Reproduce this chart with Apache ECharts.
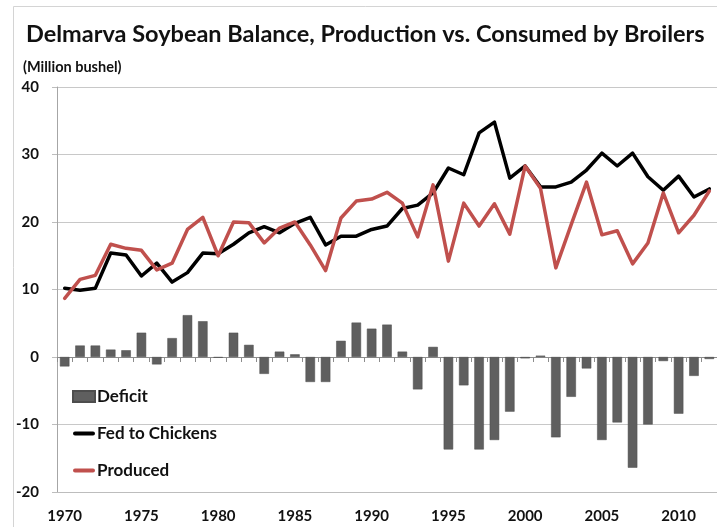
<!DOCTYPE html>
<html>
<head>
<meta charset="utf-8">
<title>Delmarva Soybean Balance</title>
<script src="https://cdn.jsdelivr.net/npm/echarts@6/dist/echarts.min.js"></script>
<style>
  html, body { margin: 0; padding: 0; background: #fff; }
  #main { width: 717px; height: 527px; }
</style>
</head>
<body>
<div id="main"></div>
<script>
// 年份 1970 - 2012
var years = ['1970','1971','1972','1973','1974','1975','1976','1977','1978','1979',
             '1980','1981','1982','1983','1984','1985','1986','1987','1988','1989',
             '1990','1991','1992','1993','1994','1995','1996','1997','1998','1999',
             '2000','2001','2002','2003','2004','2005','2006','2007','2008','2009',
             '2010','2011','2012'];

// Fed to Chickens
var fedToChickens = [10.2, 9.9, 10.2, 15.4, 15.1, 12.0, 13.9, 11.1, 12.5, 15.4,
                     15.3, 16.7, 18.4, 19.3, 18.4, 19.8, 20.7, 16.6, 17.9, 17.9,
                     18.9, 19.4, 22.0, 22.5, 24.3, 28.0, 27.0, 33.2, 34.8, 26.5,
                     28.3, 25.2, 25.2, 25.9, 27.7, 30.2, 28.3, 30.2, 26.7, 24.7,
                     26.8, 23.7, 24.9];

// Produced
var produced = [8.7, 11.5, 12.1, 16.7, 16.1, 15.8, 12.9, 13.9, 18.9, 20.7,
                15.0, 20.0, 19.9, 16.9, 19.1, 20.0, 16.6, 12.8, 20.6, 23.1,
                23.4, 24.4, 22.8, 17.8, 25.5, 14.2, 22.8, 19.4, 22.7, 18.2,
                28.3, 25.0, 13.2, 19.6, 25.9, 18.1, 18.7, 13.8, 16.9, 24.3,
                18.4, 21.0, 24.6];

// Deficit
var deficit = [-1.4, 1.7, 1.7, 1.1, 1.0, 3.6, -1.1, 2.8, 6.2, 5.3,
               -0.1, 3.6, 1.8, -2.5, 0.8, 0.4, -3.7, -3.7, 2.4, 5.1,
               4.2, 4.8, 0.8, -4.8, 1.5, -13.7, -4.2, -13.7, -12.3, -8.1,
               -0.2, 0.2, -11.9, -5.9, -1.7, -12.3, -9.7, -16.4, -10.0, -0.6,
               -8.4, -2.8, -0.3];

var yTicks = { min: -20, max: 40, interval: 10 };

var font = 'Lato, "Open Sans", sans-serif';
// 图例里的线条图标 (细长条)
var lineIcon = 'path://M2,0 L20,0 A2,2 0 0 1 20,4 L2,4 A2,2 0 0 1 2,0 Z';

var chart = echarts.init(document.getElementById('main'));

var option = {
    animation: false,
    backgroundColor: '#fff',
    textStyle: { fontFamily: font },
    graphic: [
        {
            type: 'rect',
            shape: { x: 13.5, y: 6.5, width: 760, height: 560 },
            style: { fill: 'none', stroke: '#d4d4d4', lineWidth: 1 },
            silent: true
        }
    ],
    title: [
        {
            text: 'Delmarva Soybean Balance, Production vs. Consumed by Broilers',
            left: 21,
            top: 17,
            textStyle: { fontFamily: font, fontSize: 23.5, fontWeight: 'bold', color: '#111' }
        },
        {
            text: '(Million bushel)',
            left: 18,
            top: 55,
            textStyle: { fontFamily: font, fontSize: 14.5, fontWeight: 'bold', color: '#111' }
        }
    ],
    legend: {
        orient: 'vertical',
        left: 67,
        top: 383,
        itemWidth: 22,
        itemHeight: 11,
        itemGap: 20,
        symbolKeepAspect: true,
        textStyle: { fontFamily: font, fontSize: 17, fontWeight: 'bold', color: '#111', padding: [0, 0, 0, -3] },
        data: [
            { name: 'Deficit', icon: 'rect' },
            { name: 'Fed to Chickens', icon: lineIcon },
            { name: 'Produced', icon: lineIcon }
        ]
    },
    grid: {
        left: 57,
        right: 0,
        top: 87,
        bottom: 35
    },
    xAxis: [
        {
            type: 'category',
            data: years,
            boundaryGap: true,
            axisLine: { onZero: true, lineStyle: { color: '#8c8c8c', width: 1 } },
            axisTick: { show: true, interval: 0, length: 5, lineStyle: { color: '#8c8c8c' } },
            axisLabel: { show: false },
            splitLine: { show: false }
        },
        {
            type: 'category',
            data: years,
            position: 'bottom',
            boundaryGap: true,
            axisLine: { onZero: false, show: true, lineStyle: { color: '#bdbdbd', width: 1 } },
            axisTick: { show: false },
            axisLabel: {
                margin: 17,
                fontFamily: font,
                fontSize: 15,
                fontWeight: 'bold',
                color: '#111',
                interval: function (i) { return i % 5 === 0; }
            },
            splitLine: { show: false }
        }
    ],
    yAxis: {
        type: 'value',
        min: yTicks.min,
        max: yTicks.max,
        interval: yTicks.interval,
        axisLine: { show: true, lineStyle: { color: '#a6a6a6' } },
        axisTick: { show: true, length: 5, lineStyle: { color: '#bdbdbd' } },
        axisLabel: { margin: 18, fontFamily: font, fontSize: 15, fontWeight: 'bold', color: '#111' },
        splitLine: { show: true, lineStyle: { color: '#c8c8c8', width: 1 } }
    },
    series: [
        {
            name: 'Deficit',
            type: 'bar',
            xAxisIndex: 0,
            data: deficit,
            barWidth: 9.5,
            itemStyle: { color: '#5f5f5f', borderColor: '#4d4d4d', borderWidth: 0.5 }
        },
        {
            name: 'Fed to Chickens',
            type: 'line',
            xAxisIndex: 0,
            data: fedToChickens,
            symbol: 'none',
            lineStyle: { color: '#000', width: 3.5, join: 'round', cap: 'round' },
            itemStyle: { color: '#000' }
        },
        {
            name: 'Produced',
            type: 'line',
            xAxisIndex: 0,
            data: produced,
            symbol: 'none',
            lineStyle: { color: '#c0504d', width: 3.5, join: 'round', cap: 'round' },
            itemStyle: { color: '#c0504d' }
        }
    ]
};

chart.setOption(option);

window.addEventListener('resize', function () {
    chart.resize();
});
</script>
</body>
</html>
